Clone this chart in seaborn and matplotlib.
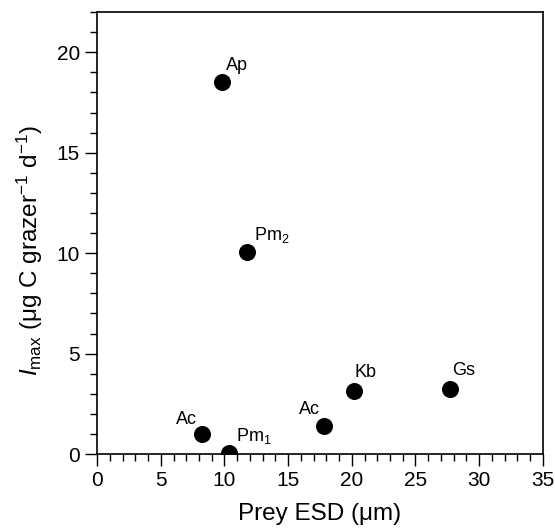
import pandas as pd
import matplotlib
matplotlib.use("Agg")
import matplotlib.pyplot as plt
import seaborn as sns
from matplotlib.ticker import MultipleLocator

# Data
prey = ["Ap", "Pm$_2$", "Ac", "Pm$_1$", "Ac", "Kb", "Gs"]
esd = [9.8, 11.8, 8.2, 10.35, 17.8, 20.2, 27.7]
imax = [18.5, 10.05, 1.0, 0.05, 1.4, 3.15, 3.25]

df = pd.DataFrame({"prey": prey, "esd": esd, "imax": imax})

# label offsets (points) and alignment
offsets = [(3, 6, "left"), (5, 5, "left"), (-3, 4, "right"), (5, 5, "left"),
           (-3, 6, "right"), (0, 7, "left"), (2, 7, "left")]

sns.set_style("ticks")
plt.rcParams["font.family"] = ["Liberation Sans", "DejaVu Sans"]
plt.rcParams["mathtext.fontset"] = "custom"
plt.rcParams["mathtext.rm"] = "Liberation Sans"
plt.rcParams["mathtext.it"] = "Liberation Sans:italic"
plt.rcParams["text.color"] = "black"
plt.rcParams["axes.labelcolor"] = "black"
plt.rcParams["xtick.color"] = "black"
plt.rcParams["ytick.color"] = "black"

fig = plt.figure(figsize=(5.55, 5.28), dpi=100)
ax = fig.add_axes([0.175, 0.14, 0.803, 0.837])

sns.scatterplot(data=df, x="esd", y="imax", ax=ax, color="black",
                s=150, edgecolor="black", linewidth=0, zorder=3, legend=False)

for (lab, x, y), (dx, dy, ha) in zip(zip(prey, esd, imax), offsets):
    ax.annotate(lab, (x, y), xytext=(dx, dy), textcoords="offset points",
                ha=ha, va="bottom", fontsize=13)

ax.set_xlim(0, 35)
ax.set_ylim(0, 22)
ax.xaxis.set_major_locator(MultipleLocator(5))
ax.xaxis.set_minor_locator(MultipleLocator(1))
ax.yaxis.set_major_locator(MultipleLocator(5))
ax.yaxis.set_minor_locator(MultipleLocator(1))
ax.tick_params(which="major", direction="out", length=8.5, width=1, labelsize=15, pad=4)
ax.tick_params(which="minor", direction="out", length=5, width=1)
ax.tick_params(top=False, right=False)
for sp in ax.spines.values():
    sp.set_visible(True)
    sp.set_linewidth(1.2)
    sp.set_color("black")

ax.set_xlabel("Prey ESD (\u03bcm)", fontsize=17.5, labelpad=9)
ax.set_ylabel("$I_{\\rm max}$ (\u03bcg C grazer$^{-1}$ d$^{-1}$)", fontsize=17.5)
ax.yaxis.set_label_coords(-0.118, 0.46)

plt.savefig("out.png", dpi=100)
